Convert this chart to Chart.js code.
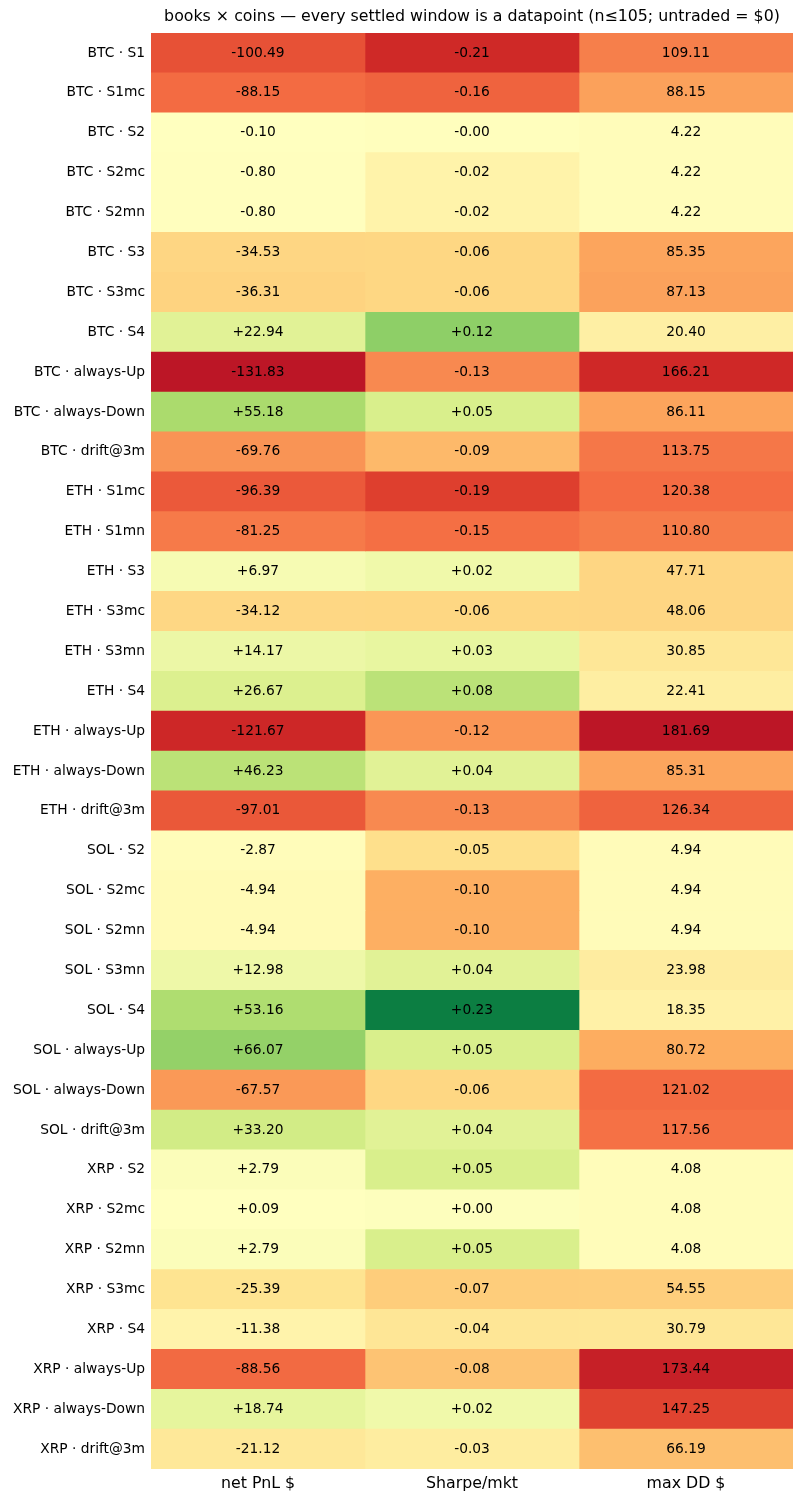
<!DOCTYPE html>
<html>
<head>
<meta charset="utf-8">
<script src="https://cdn.jsdelivr.net/npm/chart.js@4/dist/chart.umd.min.js"></script>
<style>
html,body{margin:0;padding:0;background:#fff;}
canvas{display:block;}
</style>
</head>
<body>
<canvas id="c" width="804" height="1502"></canvas>
<script>
const TITLE = 'books \u00d7 coins \u2014 every settled window is a datapoint (n\u2264105; untraded = $0)';
const columns = ['net PnL $', 'Sharpe/mkt', 'max DD $'];
const rows = [
  'BTC \u00b7 S1','BTC \u00b7 S1mc','BTC \u00b7 S2','BTC \u00b7 S2mc','BTC \u00b7 S2mn','BTC \u00b7 S3','BTC \u00b7 S3mc','BTC \u00b7 S4',
  'BTC \u00b7 always-Up','BTC \u00b7 always-Down','BTC \u00b7 drift@3m',
  'ETH \u00b7 S1mc','ETH \u00b7 S1mn','ETH \u00b7 S3','ETH \u00b7 S3mc','ETH \u00b7 S3mn','ETH \u00b7 S4',
  'ETH \u00b7 always-Up','ETH \u00b7 always-Down','ETH \u00b7 drift@3m',
  'SOL \u00b7 S2','SOL \u00b7 S2mc','SOL \u00b7 S2mn','SOL \u00b7 S3mn','SOL \u00b7 S4',
  'SOL \u00b7 always-Up','SOL \u00b7 always-Down','SOL \u00b7 drift@3m',
  'XRP \u00b7 S2','XRP \u00b7 S2mc','XRP \u00b7 S2mn','XRP \u00b7 S3mc','XRP \u00b7 S4',
  'XRP \u00b7 always-Up','XRP \u00b7 always-Down','XRP \u00b7 drift@3m'
];
const netPnl = [
  -100.49, -88.15, -0.10, -0.80, -0.80, -34.53, -36.31, 22.94,
  -131.83, 55.18, -69.76,
  -96.39, -81.25, 6.97, -34.12, 14.17, 26.67,
  -121.67, 46.23, -97.01,
  -2.87, -4.94, -4.94, 12.98, 53.16,
  66.07, -67.57, 33.20,
  2.79, 0.09, 2.79, -25.39, -11.38,
  -88.56, 18.74, -21.12
];
const sharpe = [
  -0.21, -0.16, -0.002, -0.02, -0.02, -0.06, -0.06, 0.12,
  -0.13, 0.05, -0.09,
  -0.19, -0.15, 0.02, -0.06, 0.03, 0.08,
  -0.12, 0.04, -0.13,
  -0.05, -0.10, -0.10, 0.04, 0.23,
  0.05, -0.06, 0.04,
  0.05, 0.002, 0.05, -0.07, -0.04,
  -0.08, 0.02, -0.03
];
const maxDD = [
  109.11, 88.15, 4.22, 4.22, 4.22, 85.35, 87.13, 20.40,
  166.21, 86.11, 113.75,
  120.38, 110.80, 47.71, 48.06, 30.85, 22.41,
  181.69, 85.31, 126.34,
  4.94, 4.94, 4.94, 23.98, 18.35,
  80.72, 121.02, 117.56,
  4.08, 4.08, 4.08, 54.55, 30.79,
  173.44, 147.25, 66.19
];

// RdYlGn colormap
const RDYLGN = ['#a50026','#d73027','#f46d43','#fdae61','#fee08b','#ffffbf','#d9ef8b','#a6d96a','#66bd63','#1a9850','#006837'];
function hex2rgb(h){return [parseInt(h.slice(1,3),16),parseInt(h.slice(3,5),16),parseInt(h.slice(5,7),16)];}
function cmap(t){
  t = Math.max(0, Math.min(1, t));
  const n = RDYLGN.length - 1;
  const p = t * n;
  const i = Math.min(n - 1, Math.floor(p));
  const f = p - i;
  const a = hex2rgb(RDYLGN[i]), b = hex2rgb(RDYLGN[i+1]);
  const c = a.map((v,k)=>Math.round(v + (b[k]-v)*f));
  return 'rgb(' + c.join(',') + ')';
}
function colorsFor(vals, sign){
  const s = vals.map(v => v * sign);
  const m = Math.max(...s.map(Math.abs)) * 1.1;
  return s.map(v => cmap(0.5 + v / (2*m)));
}
const colSigns = [1, 1, -1];
const colValues = [netPnl, sharpe, maxDD];
const fmtSigned = v => (v > 0 || Object.is(v, 0) ? '+' : '-') + Math.abs(v).toFixed(2);
const colFormat = [fmtSigned, fmtSigned, v => v.toFixed(2)];

const FONT = 'DejaVu Sans';
const datasets = colValues.map((vals, c) => ({
  label: columns[c],
  data: rows.map(() => [c, c + 1]),
  backgroundColor: colorsFor(vals, colSigns[c]),
  borderWidth: 0,
  grouped: false,
  barPercentage: 1,
  categoryPercentage: 1
}));

const cellText = {
  id: 'cellText',
  afterDatasetsDraw(chart){
    const ctx = chart.ctx;
    ctx.save();
    ctx.fillStyle = '#000';
    ctx.font = '13.8px "' + FONT + '"';
    ctx.textAlign = 'center';
    ctx.textBaseline = 'middle';
    chart.data.datasets.forEach((ds, c) => {
      const meta = chart.getDatasetMeta(c);
      meta.data.forEach((el, i) => {
        const cx = (el.x + el.base) / 2;
        ctx.fillText(colFormat[c](colValues[c][i]), cx, el.y);
      });
    });
    ctx.restore();
  },
  afterDraw(chart){
    const ctx = chart.ctx, a = chart.chartArea;
    ctx.save();
    ctx.fillStyle = '#000';
    ctx.font = '15.8px "' + FONT + '"';
    ctx.textAlign = 'center';
    ctx.textBaseline = 'middle';
    ctx.fillText(TITLE, (a.left + a.right) / 2, 17);
    ctx.restore();
  }
};

new Chart(document.getElementById('c'), {
  type: 'bar',
  data: { labels: rows, datasets },
  options: {
    indexAxis: 'y',
    responsive: false,
    devicePixelRatio: 1,
    animation: false,
    layout: { padding: { top: 33, right: 11, left: 0, bottom: 0 } },
    plugins: { legend: { display: false }, tooltip: { enabled: false }, title: { display: false } },
    scales: {
      x: {
        type: 'linear', min: 0, max: 3,
        grid: { display: false, drawTicks: false },
        border: { display: false },
        afterBuildTicks: s => { s.ticks = [{value:0.5},{value:1.5},{value:2.5}]; },
        afterFit: s => { s.height = 33; },
        ticks: {
          autoSkip: false, maxRotation: 0, padding: 5, color: '#000',
          font: { family: FONT, size: 15.8 },
          callback: v => columns[Math.floor(v)]
        }
      },
      y: {
        type: 'category',
        grid: { display: false, drawTicks: false },
        border: { display: false },
        afterFit: s => { s.width = 151; },
        ticks: {
          autoSkip: false, padding: 6, color: '#000',
          font: { family: FONT, size: 13.8 }
        }
      }
    }
  },
  plugins: [cellText]
});
</script>
</body>
</html>
